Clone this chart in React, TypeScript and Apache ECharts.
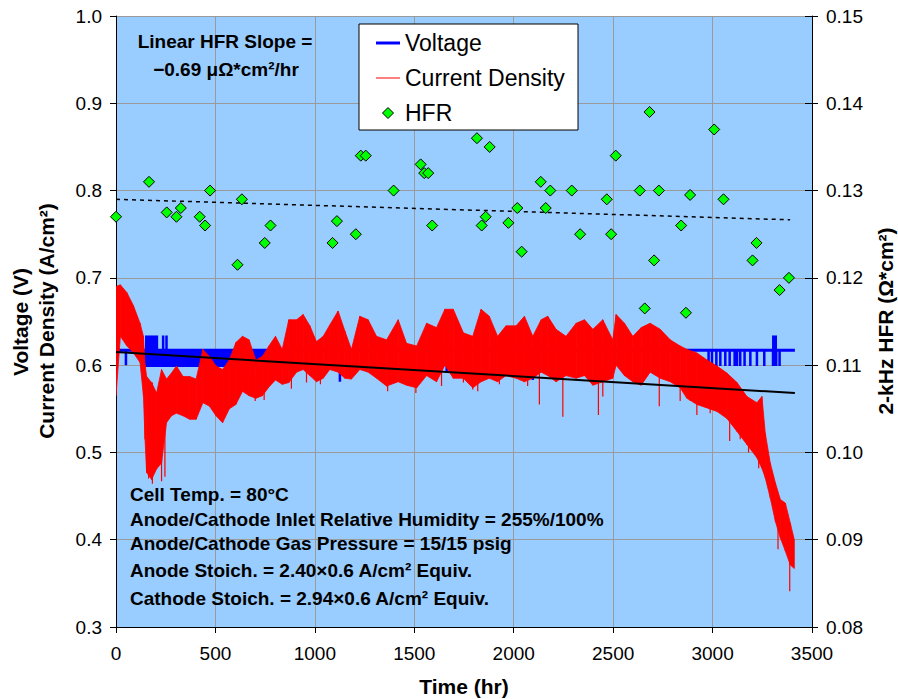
import React, { useEffect, useRef } from "react";
import * as echarts from "echarts";

// ---------- data ----------
const xTickHours = [0, 500, 1000, 1500, 2000, 2500, 3000, 3500];

// HFR points (hours, ohm*cm2)
const hfrHours = [0, 166, 255, 304, 326, 421, 448, 473, 611, 633, 748, 777, 1089, 1111, 1206, 1231, 1256, 1396, 1532, 1550, 1570, 1590, 1815, 1839, 1859, 1879, 1973, 2018, 2040, 2136, 2161, 2184, 2292, 2334, 2468, 2490, 2513, 2634, 2659, 2683, 2706, 2730, 2842, 2866, 2887, 3008, 3055, 3201, 3221, 3337, 3384];
const hfrValues = [0.127, 0.131, 0.1275, 0.127, 0.128, 0.127, 0.126, 0.130, 0.1215, 0.129, 0.124, 0.126, 0.124, 0.1265, 0.125, 0.134, 0.134, 0.130, 0.133, 0.132, 0.132, 0.126, 0.136, 0.126, 0.127, 0.135, 0.1263, 0.128, 0.123, 0.131, 0.128, 0.130, 0.130, 0.125, 0.129, 0.125, 0.134, 0.130, 0.1165, 0.139, 0.122, 0.130, 0.126, 0.116, 0.1295, 0.137, 0.129, 0.122, 0.124, 0.1186, 0.120];

// HFR linear trend (dashed)
const hfrTrendHours = [0, 3390];
const hfrTrendValues = [0.129, 0.12665];

// Voltage linear trend (solid black)
const vTrendHours = [0, 3414];
const vTrendValues = [0.615, 0.568];

// Current density envelope (hours, upper, lower)
const cdHours = [0, 22, 55, 88, 121, 138, 146, 154, 179, 204, 229, 254, 279, 304, 337, 370, 403, 437, 470, 503, 536, 570, 603, 636, 669, 703, 736, 769, 802, 836, 869, 908, 941, 975, 1008, 1042, 1075, 1117, 1151, 1184, 1226, 1268, 1310, 1361, 1419, 1461, 1512, 1562, 1612, 1654, 1696, 1747, 1794, 1836, 1877, 1919, 1961, 2012, 2054, 2096, 2138, 2171, 2213, 2263, 2314, 2356, 2398, 2448, 2498, 2515, 2557, 2599, 2641, 2686, 2737, 2787, 2837, 2871, 2921, 2972, 3022, 3072, 3123, 3173, 3223, 3248, 3265, 3290, 3316, 3341, 3366, 3391, 3411];
const cdTop = [0.690, 0.692, 0.683, 0.668, 0.648, 0.633, 0.600, 0.587, 0.580, 0.568, 0.595, 0.584, 0.591, 0.599, 0.587, 0.587, 0.584, 0.618, 0.610, 0.599, 0.595, 0.606, 0.626, 0.633, 0.629, 0.606, 0.610, 0.622, 0.633, 0.618, 0.652, 0.652, 0.658, 0.645, 0.627, 0.633, 0.646, 0.662, 0.639, 0.618, 0.656, 0.652, 0.633, 0.629, 0.652, 0.625, 0.622, 0.648, 0.643, 0.664, 0.664, 0.637, 0.633, 0.664, 0.656, 0.633, 0.645, 0.645, 0.656, 0.633, 0.652, 0.656, 0.641, 0.633, 0.648, 0.652, 0.641, 0.652, 0.629, 0.658, 0.648, 0.633, 0.643, 0.648, 0.641, 0.629, 0.622, 0.618, 0.614, 0.606, 0.599, 0.591, 0.580, 0.564, 0.557, 0.564, 0.522, 0.488, 0.465, 0.446, 0.442, 0.419, 0.400];
const cdBottom = [0.565, 0.633, 0.622, 0.614, 0.603, 0.565, 0.515, 0.477, 0.469, 0.481, 0.488, 0.534, 0.542, 0.545, 0.542, 0.538, 0.538, 0.557, 0.553, 0.542, 0.534, 0.550, 0.555, 0.570, 0.565, 0.562, 0.565, 0.575, 0.583, 0.578, 0.580, 0.592, 0.595, 0.588, 0.581, 0.585, 0.595, 0.592, 0.585, 0.584, 0.595, 0.592, 0.585, 0.576, 0.581, 0.577, 0.574, 0.588, 0.581, 0.600, 0.585, 0.585, 0.574, 0.581, 0.585, 0.581, 0.588, 0.585, 0.581, 0.585, 0.592, 0.588, 0.581, 0.588, 0.585, 0.588, 0.577, 0.581, 0.585, 0.600, 0.588, 0.581, 0.577, 0.592, 0.585, 0.581, 0.574, 0.562, 0.555, 0.551, 0.547, 0.539, 0.524, 0.509, 0.494, 0.482, 0.471, 0.448, 0.421, 0.402, 0.387, 0.371, 0.367];

// Current density downward spikes (hours, top, lowest value)
const cdSpikeHours = [164, 183, 229, 246, 700, 745, 882, 958, 1028, 1366, 1508, 1637, 1747, 1794, 1819, 1928, 2070, 2129, 2247, 2426, 2448, 2732, 2837, 2888, 2921, 2988, 3086, 3139, 3181, 3232, 3329, 3388];
const cdSpikeTops = [0.58, 0.58, 0.59, 0.58, 0.59, 0.59, 0.60, 0.60, 0.60, 0.60, 0.60, 0.60, 0.60, 0.60, 0.60, 0.60, 0.60, 0.60, 0.60, 0.60, 0.60, 0.60, 0.59, 0.58, 0.58, 0.57, 0.55, 0.54, 0.53, 0.52, 0.43, 0.40];
const cdSpikeLows = [0.470, 0.464, 0.467, 0.472, 0.559, 0.560, 0.573, 0.580, 0.578, 0.570, 0.568, 0.576, 0.580, 0.572, 0.570, 0.578, 0.576, 0.555, 0.541, 0.543, 0.564, 0.553, 0.559, 0.559, 0.543, 0.545, 0.513, 0.515, 0.500, 0.482, 0.389, 0.341];

// Voltage
const vLevel = 0.617;
const vStart = 0;
const vEnd = 3414;
const vLowBand = [150, 870, 0.598]; // from, to, low value
const vHighBands = [[146, 212], [3299, 3324]];
const vHighValue = 0.634;
const vSpikeHours = [50, 146, 237, 254, 924, 1126, 1663, 1869, 2096, 2633, 2980, 2997, 3019, 3039, 3064, 3086, 3111, 3123, 3139, 3161, 3190, 3223, 3260, 3304, 3312, 3320, 3337];
const vSpikeValues = [0.600, 0.598, 0.634, 0.634, 0.595, 0.581, 0.592, 0.595, 0.583, 0.583, 0.599, 0.599, 0.599, 0.599, 0.599, 0.599, 0.599, 0.599, 0.599, 0.599, 0.599, 0.599, 0.599, 0.599, 0.599, 0.599, 0.599];

const FONT = "'Liberation Sans', Arial, sans-serif";

export default function App() {
  const ref = useRef<HTMLDivElement>(null);

  useEffect(() => {
    document.body.style.margin = "0";
    if (!ref.current) return;
    const chart = echarts.init(ref.current, undefined, { renderer: "svg" });

    const cdData = cdHours.map((h, i) => [h, cdTop[i], cdBottom[i]]);

    const cdSpikeData: any[] = [];
    cdSpikeHours.forEach((h, i) => {
      cdSpikeData.push([h, cdSpikeTops[i]], [h, cdSpikeLows[i]], [h, "-"]);
    });

    const vSpikeData: any[] = [];
    vSpikeHours.forEach((h, i) => {
      vSpikeData.push([h, vLevel], [h, vSpikeValues[i]], [h, "-"]);
    });

    const option: any = {
      animation: false,
      backgroundColor: "#ffffff",
      textStyle: { fontFamily: FONT },
      grid: {
        left: 116,
        right: 86,
        top: 16,
        bottom: 72,
        show: true,
        backgroundColor: "#99CCFF",
        borderWidth: 0,
      },
      xAxis: {
        type: "value",
        min: xTickHours[0],
        max: xTickHours[xTickHours.length - 1],
        interval: 500,
        axisLine: { show: true, lineStyle: { color: "#000", width: 1 } },
        axisTick: { show: true, inside: false, length: 6, lineStyle: { color: "#000" } },
        splitLine: { show: true, lineStyle: { color: "#9a9a9a", width: 1 } },
        axisLabel: { fontSize: 19, color: "#000", fontFamily: FONT, margin: 17, formatter: (v: number) => String(v) },
      },
      yAxis: [
        {
          type: "value",
          position: "left",
          min: 0.3,
          max: 1.0,
          interval: 0.1,
          axisLine: { show: true, lineStyle: { color: "#000", width: 1 } },
          axisTick: { show: true, inside: false, length: 6, lineStyle: { color: "#000" } },
          splitLine: { show: true, lineStyle: { color: "#9a9a9a", width: 1 } },
          axisLabel: {
            fontSize: 19,
            color: "#000",
            fontFamily: FONT,
            margin: 14,
            formatter: (v: number) => v.toFixed(1),
          },
        },
        {
          type: "value",
          position: "right",
          min: 0.08,
          max: 0.15,
          interval: 0.01,
          axisLine: { show: true, onZero: false, lineStyle: { color: "#000", width: 1 } },
          axisTick: { show: true, inside: false, length: 6, lineStyle: { color: "#000" } },
          splitLine: { show: false },
          axisLabel: {
            fontSize: 19,
            color: "#000",
            fontFamily: FONT,
            margin: 14,
            formatter: (v: number) => v.toFixed(2),
          },
        },
        {
          type: "value",
          position: "right",
          min: 0.08,
          max: 0.15,
          interval: 0.01,
          axisLine: { show: false },
          axisTick: { show: true, inside: true, length: 7, lineStyle: { color: "#000" } },
          splitLine: { show: false },
          axisLabel: { show: false },
        },
      ],
      series: [
        {
          name: "Voltage",
          type: "line",
          yAxisIndex: 0,
          symbol: "none",
          z: 2,
          data: [[vStart, vLevel], [vEnd, vLevel]],
          lineStyle: { color: "#0000FF", width: 3 },
          markArea: {
            silent: true,
            itemStyle: { color: "#0000FF", opacity: 1 },
            data: [
              [{ xAxis: vLowBand[0], yAxis: vLowBand[2] }, { xAxis: vLowBand[1], yAxis: vLevel }],
              ...vHighBands.map((b) => [{ xAxis: b[0], yAxis: vLevel }, { xAxis: b[1], yAxis: vHighValue }]),
            ],
          },
        },
        {
          name: "vSpikes",
          type: "line",
          yAxisIndex: 0,
          symbol: "none",
          z: 2,
          connectNulls: false,
          data: vSpikeData,
          lineStyle: { color: "#0000FF", width: 2.5 },
        },
        {
          name: "Current Density",
          type: "custom",
          yAxisIndex: 0,
          z: 3,
          data: cdData,
          encode: { x: 0, y: [1, 2] },
          clip: true,
          renderItem: (params: any, api: any) => {
            const i = params.dataIndex;
            if (i >= cdHours.length - 1) return null;
            const h0 = api.value(0);
            const t0 = api.value(1);
            const b0 = api.value(2);
            const h1 = cdHours[i + 1];
            const t1 = cdTop[i + 1];
            const b1 = cdBottom[i + 1];
            const pts = [api.coord([h0, t0]), api.coord([h1, t1]), api.coord([h1, b1]), api.coord([h0, b0])];
            return {
              type: "polygon",
              shape: { points: pts },
              style: { fill: "#FF0000", stroke: "#FF0000", lineWidth: 0.8 },
            };
          },
        },
        {
          name: "cdSpikes",
          type: "line",
          yAxisIndex: 0,
          symbol: "none",
          z: 3,
          connectNulls: false,
          data: cdSpikeData,
          lineStyle: { color: "#FF0000", width: 1.2 },
        },
        {
          name: "vTrend",
          type: "line",
          yAxisIndex: 0,
          symbol: "none",
          z: 4,
          data: vTrendHours.map((h, i) => [h, vTrendValues[i]]),
          lineStyle: { color: "#000", width: 2 },
        },
        {
          name: "hfrTrend",
          type: "line",
          yAxisIndex: 1,
          symbol: "none",
          z: 4,
          data: hfrTrendHours.map((h, i) => [h, hfrTrendValues[i]]),
          lineStyle: { color: "#000", width: 1.5, type: [4, 4] },
        },
        {
          name: "HFR",
          type: "scatter",
          yAxisIndex: 1,
          symbol: "diamond",
          symbolSize: [11, 11],
          data: hfrHours.map((h, i) => [h, hfrValues[i]]),
          itemStyle: { color: "#00FF00", borderColor: "#000", borderWidth: 1, opacity: 1 },
          z: 5,
        },
      ],
      graphic: [
        // legend box
        {
          type: "rect",
          z: 100,
          shape: { x: 359, y: 24, width: 219, height: 106 },
          style: { fill: "#fff", stroke: "#000", lineWidth: 1 },
        },
        {
          type: "line",
          z: 101,
          shape: { x1: 376, y1: 43, x2: 400, y2: 43 },
          style: { stroke: "#0000FF", lineWidth: 3 },
        },
        {
          type: "line",
          z: 101,
          shape: { x1: 376, y1: 78, x2: 400, y2: 78 },
          style: { stroke: "#FF0000", lineWidth: 1 },
        },
        {
          type: "polygon",
          z: 101,
          shape: { points: [[388, 107.5], [393.5, 113], [388, 118.5], [382.5, 113]] },
          style: { fill: "#00FF00", stroke: "#000", lineWidth: 1 },
        },
        {
          type: "text", z: 101, x: 405, y: 43,
          style: { text: "Voltage", fontSize: 23, fontFamily: FONT, fill: "#000", verticalAlign: "middle" },
        },
        {
          type: "text", z: 101, x: 405, y: 78,
          style: { text: "Current Density", fontSize: 23, fontFamily: FONT, fill: "#000", verticalAlign: "middle" },
        },
        {
          type: "text", z: 101, x: 405, y: 113,
          style: { text: "HFR", fontSize: 23, fontFamily: FONT, fill: "#000", verticalAlign: "middle" },
        },
        // slope annotation
        {
          type: "text", z: 100, x: 225, y: 41,
          style: { text: "Linear HFR Slope =", fontSize: 19, fontWeight: "bold", fontFamily: FONT, fill: "#000", align: "center", verticalAlign: "middle" },
        },
        {
          type: "text", z: 100, x: 226, y: 69,
          style: { text: "\u22120.69 \u03bc\u03a9*cm\u00b2/hr", fontSize: 19, fontWeight: "bold", fontFamily: FONT, fill: "#000", align: "center", verticalAlign: "middle" },
        },
        // conditions
        ...[
          ["Cell Temp. = 80\u00b0C", 494],
          ["Anode/Cathode Inlet Relative Humidity = 255%/100%", 519],
          ["Anode/Cathode Gas Pressure = 15/15 psig", 543],
          ["Anode Stoich. = 2.40\u00d70.6 A/cm\u00b2 Equiv.", 570],
          ["Cathode Stoich. = 2.94\u00d70.6 A/cm\u00b2 Equiv.", 598],
        ].map(([t, y]) => ({
          type: "text", z: 100, x: 130, y: y as number,
          style: { text: t as string, fontSize: 19, fontWeight: "bold", fontFamily: FONT, fill: "#000", verticalAlign: "middle" },
        })),
        // axis titles
        {
          type: "text", x: 20, y: 322, rotation: Math.PI / 2,
          style: { text: "Voltage (V)", fontSize: 21, fontWeight: "bold", fontFamily: FONT, fill: "#000", align: "center", verticalAlign: "middle" },
        },
        {
          type: "text", x: 46, y: 321, rotation: Math.PI / 2,
          style: { text: "Current Density (A/cm\u00b2)", fontSize: 21, fontWeight: "bold", fontFamily: FONT, fill: "#000", align: "center", verticalAlign: "middle" },
        },
        {
          type: "text", x: 885, y: 321, rotation: Math.PI / 2,
          style: { text: "2-kHz HFR (\u03a9*cm\u00b2)", fontSize: 21, fontWeight: "bold", fontFamily: FONT, fill: "#000", align: "center", verticalAlign: "middle" },
        },
        {
          type: "text", x: 464, y: 686,
          style: { text: "Time (hr)", fontSize: 21, fontWeight: "bold", fontFamily: FONT, fill: "#000", align: "center", verticalAlign: "middle" },
        },
      ],
    };

    chart.setOption(option);
    return () => chart.dispose();
  }, []);

  return <div ref={ref} style={{ width: 898, height: 699 }} />;
}
